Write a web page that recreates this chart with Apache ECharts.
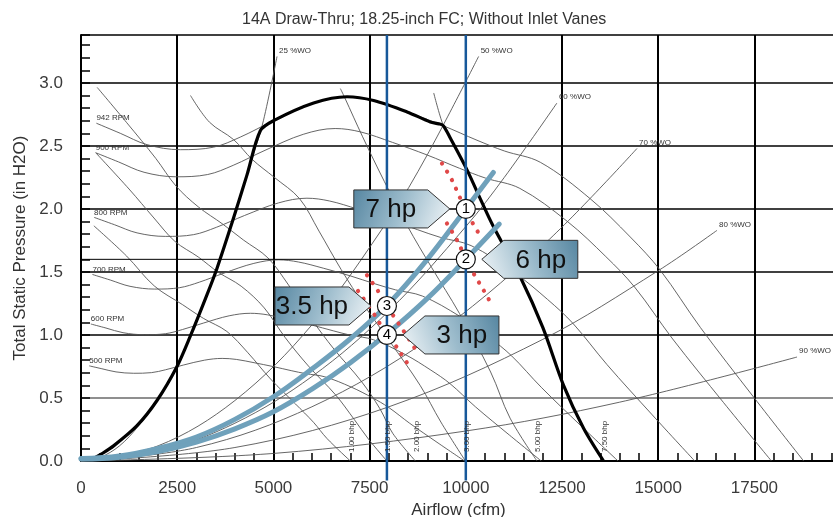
<!DOCTYPE html>
<html><head><meta charset="utf-8">
<script src="https://cdn.jsdelivr.net/npm/echarts@6/dist/echarts.min.js"></script>
<style>html,body{margin:0;padding:0;background:#fff}#chart{width:833px;height:517px}</style>
</head><body><div id="chart"></div>
<script>
const FF = "'Liberation Sans', Arial, sans-serif";
const chartTitle = '14A Draw-Thru; 18.25-inch FC; Without Inlet Vanes';
const xAxisName = 'Airflow (cfm)';
const yAxisName = 'Total Static Pressure (in H2O)';
const X_MAX = 19620, Y_MAX = 3.38;

// fan speed curves
const rpm942 = [[400,2.68],[1021,2.60],[1715,2.51],[2580,2.47],[3446,2.49],[4140,2.57],[5005,2.70],[6045,2.84],[6913,2.89],[7604,2.86],[8472,2.77],[9415,2.66],[10291,2.545],[11000,2.46],[11936,2.37],[13236,2.08],[14275,1.777],[15055,1.513],[16094,1.06],[17479,0.507],[18779,0]];
const rpm900 = [[382,2.446],[975,2.373],[1638,2.291],[2465,2.255],[3292,2.273],[3955,2.346],[4782,2.465],[5775,2.592],[6605,2.638],[7265,2.611],[8094,2.528],[8995,2.428],[9832,2.323],[10509,2.245],[11404,2.163],[12646,1.899],[13638,1.622],[14384,1.381],[15376,0.968],[16699,0.463],[17942,0]];
const rpm800 = [[340,1.933],[867,1.875],[1457,1.810],[2191,1.782],[2927,1.796],[3516,1.854],[4251,1.948],[5134,2.048],[5871,2.085],[6458,2.063],[7195,1.998],[7996,1.919],[8740,1.836],[9342,1.774],[10137,1.709],[11241,1.500],[12124,1.282],[12786,1.091],[13669,0.765],[14845,0.366],[15949,0]];
const rpm700 = [[297,1.480],[759,1.436],[1274,1.386],[1917,1.364],[2561,1.375],[3076,1.419],[3719,1.491],[4492,1.568],[5137,1.596],[5650,1.579],[6295,1.530],[6996,1.469],[7647,1.405],[8174,1.358],[8870,1.309],[9836,1.149],[10608,0.981],[11187,0.835],[11960,0.585],[12989,0.280],[13955,0]];
const rpm600 = [[255,1.087],[650,1.055],[1092,1.018],[1643,1.002],[2195,1.010],[2637,1.043],[3188,1.095],[3850,1.152],[4403,1.172],[4843,1.160],[5396,1.124],[5996,1.079],[6554,1.033],[7006,0.998],[7602,0.962],[8430,0.844],[9092,0.721],[9589,0.614],[10250,0.430],[11132,0.206],[11960,0]];
const rpm500 = [[212,0.755],[542,0.732],[910,0.707],[1369,0.696],[1829,0.701],[2198,0.724],[2657,0.761],[3209,0.800],[3669,0.814],[4036,0.806],[4497,0.780],[4998,0.749],[5462,0.717],[5839,0.693],[6336,0.668],[7026,0.586],[7577,0.501],[7991,0.426],[8543,0.299],[9278,0.143],[9968,0]];
const rpmNames = ['942 RPM','900 RPM','800 RPM','700 RPM','600 RPM','500 RPM'];

// percent wide open system lines
const wo25 = [[0,0],[500,0.03],[1000,0.12],[1500,0.28],[2000,0.49],[2500,0.76],[3000,1.10],[3500,1.50],[4000,1.96],[4500,2.45],[4740,2.70],[5094,3.21]];
const wo50 = [[0,0],[2000,0.12],[4000,0.48],[6000,1.08],[8000,1.92],[9000,2.43],[10333,3.21]];
const wo60 = [[0,0],[2000,0.074],[4000,0.30],[6000,0.67],[8000,1.19],[10000,1.86],[11000,2.25],[12367,2.84]];
const wo70 = [[0,0],[3000,0.107],[6000,0.43],[9000,0.96],[12000,1.71],[14449,2.48]];
const wo80 = [[0,0],[4000,0.107],[8000,0.43],[12000,0.965],[15000,1.51],[16528,1.83]];
const wo90 = [[0,0],[5000,0.06],[10000,0.238],[14000,0.467],[18607,0.825]];
const woNames = ['25 %WO','50 %WO','60 %WO','70 %WO','80 %WO','90 %WO'];

// brake horsepower lines
const bhp100 = [[334,1.866],[1186,1.626],[1904,1.389],[2641,1.240],[3179,1.132],[3790,1.028],[4337,0.859],[4928,0.65],[5576,0.452],[6042,0.307],[6394,0.178],[7000,0]];
const bhp150 = [[382,2.446],[1248,2.158],[1896,1.928],[2439,1.743],[3046,1.619],[3575,1.496],[4162,1.387],[4761,1.215],[5307,0.979],[5912,0.753],[6615,0.525],[7102,0.329],[7470,0.174],[7950,0]];
const bhp200 = [[421,2.964],[1189,2.684],[1943,2.401],[2468,2.182],[3046,2.017],[3686,1.879],[4218,1.754],[4856,1.612],[5392,1.397],[5975,1.132],[6578,0.886],[7285,0.632],[7769,0.414],[8100,0.22],[8690,0]];
const bhp300 = [[2846,2.90],[3339,2.688],[3966,2.55],[4452,2.392],[5017,2.252],[5681,2.081],[6185,1.824],[6761,1.519],[7358,1.235],[8030,0.946],[8811,0.601],[9352,0.309],[9990,0]];
const bhp500 = [[6740,2.955],[6850,2.885],[7319,2.572],[7881,2.219],[8483,1.864],[9110,1.536],[9836,1.17],[10645,0.706],[11150,0.34],[11850,0]];
const bhp750 = [[9166,2.92],[9415,2.66],[9600,2.56],[10031,2.31],[10377,2.08],[10700,1.87],[11416,1.46],[12000,1.06],[12540,0.60],[13060,0.26],[13580,0]];
const bhpNames = ['1.00 bhp','1.50 bhp','2.00 bhp','3.00 bhp','5.00 bhp','7.50 bhp'];

// operating envelope (thick black)
const fanLimit = [[330,0.02],[502,0.05],[847,0.12],[1455,0.28],[1975,0.48],[2495,0.75],[2840,0.99],[3275,1.32],[3535,1.53],[3966,1.93],[4314,2.27],[4660,2.62],[5005,2.70],[6045,2.84],[6913,2.89],[7604,2.86],[8472,2.77],[9078,2.69],[9300,2.675],[9415,2.66],[9600,2.56],[10031,2.31],[10377,2.08],[10700,1.87],[11416,1.46],[12000,1.06],[12540,0.60],[13060,0.26],[13580,0]];

// system curves (light blue)
const systemA = [[0,0.02],[1000,0.04],[2000,0.10],[3000,0.19],[4000,0.33],[5000,0.51],[6000,0.73],[7000,0.97],[8000,1.25],[9000,1.60],[10000,2.0],[10715,2.29]];
const systemB = [[0,0.015],[1000,0.03],[2000,0.075],[3000,0.15],[4000,0.255],[5000,0.39],[6000,0.57],[7000,0.78],[8000,1.02],[9000,1.29],[10000,1.6],[10870,1.88]];

// red dotted motor curves
const dotsE = [[9382,2.36],[9641,2.228],[9839,2.095],[10000,2.0],[10161,1.897],[10421,1.765]];
const dotsF = [[9511,1.884],[9771,1.752],[9900,1.67],[10000,1.6],[10203,1.487],[10447,1.363],[10681,1.236]];
const dotsG = [[7432,1.474],[7718,1.349],[7950,1.23],[8238,1.098],[8514,0.971],[8758,0.852]];
const dotsH = [[7199,1.349],[7604,1.17],[7950,1.0],[8168,0.919],[8428,0.799],[8558,0.742]];

// design airflows and pressure
const designAirflows = [7950, 10000];
const designPressure = 1.6;

// operating points
const opPoints = [[10000,2.0],[10000,1.6],[7950,1.23],[7950,1.0]];
const opLabels = ['1','2','3','4'];
const calloutTexts = ['7 hp','6 hp','3.5 hp','3 hp'];
const calloutSides = [-1, 1, -1, 1];

const thin = (data) => ({type:'line', data, showSymbol:false, symbol:'none', silent:true, smooth:0.35, z:2,
  lineStyle:{color:'#555', width:0.9}});

const series = [];
[rpm942,rpm900,rpm800,rpm700,rpm600,rpm500].forEach(d=>series.push(thin(d)));
[wo25,wo50,wo60,wo70,wo80,wo90].forEach(d=>series.push(thin(d)));
[bhp100,bhp150,bhp200,bhp300,bhp500,bhp750].forEach(d=>series.push(thin(d)));
series.push({type:'line', data:fanLimit, showSymbol:false, symbol:'none', silent:true, smooth:0.3, z:3,
  lineStyle:{color:'#000', width:3.2}});
[systemA, systemB].forEach(d=>series.push({type:'line', data:d, showSymbol:false, symbol:'none', silent:true, smooth:0.4, z:4,
  lineStyle:{color:'#6fa1bb', width:5, cap:'round'}}));
[dotsE,dotsF,dotsG,dotsH].forEach(d=>series.push({type:'line', data:d, showSymbol:false, symbol:'none', silent:true, smooth:0.4, z:5,
  lineStyle:{color:'#e04848', width:4.2, type:[0.1,9.5], cap:'round'}}));
designAirflows.forEach(x=>series.push({type:'line', data:[[x,Y_MAX],[x,-0.155]], clip:false, showSymbol:false, symbol:'none', silent:true, z:6,
  lineStyle:{color:'#17589a', width:2.5}}));
series.push({type:'line', data:[[-480,designPressure],[designAirflows[1],designPressure]], clip:false, showSymbol:false, symbol:'none', silent:true, z:6,
  lineStyle:{color:'#000', width:1}});

// small labels
const labelMeta = [], labelData = [];
[rpm942,rpm900,rpm800,rpm700,rpm600,rpm500].forEach((c,i)=>{labelMeta.push({kind:'rpm', text:rpmNames[i]}); labelData.push(c[0]);});
[wo25,wo50,wo60,wo70,wo80,wo90].forEach((c,i)=>{labelMeta.push({kind:'wo', text:woNames[i]}); labelData.push(c[c.length-1]);});
[bhp100,bhp150,bhp200,bhp300,bhp500,bhp750].forEach((c,i)=>{labelMeta.push({kind:'bhp', text:bhpNames[i]}); labelData.push(c[c.length-1]);});
series.push({type:'custom', data:labelData, clip:false, silent:true, z:7,
  renderItem:(params, api)=>{
    const m = labelMeta[params.dataIndex];
    const p = api.coord([api.value(0), api.value(1)]);
    const st = {text:m.text, fontSize:8, fontFamily:FF, fill:'#333', align:'left', verticalAlign:'middle'};
    if (m.kind==='rpm') return {type:'text', x:p[0], y:p[1]-5, style:st};
    if (m.kind==='wo') return {type:'text', x:p[0]+2, y:p[1]-6, style:st};
    return {type:'text', x:p[0]+1, y:p[1]-9, rotation:Math.PI/2, style:st};
  }});

// operating point circles
series.push({type:'scatter', data:opPoints, symbol:'circle', symbolSize:19, silent:true, z:8,
  itemStyle:{color:'#fff', borderColor:'#111', borderWidth:1.2, opacity:1},
  label:{show:true, position:'inside', formatter:(p)=>opLabels[p.dataIndex], fontSize:15, color:'#000',
    textBorderWidth:0, textBorderColor:'transparent', fontFamily:FF}});

// callouts
series.push({type:'custom', data:opPoints.map((p,i)=>[p[0],p[1],calloutSides[i]]), clip:false, silent:true, z:9,
  renderItem:(params, api)=>{
    const c = api.coord([api.value(0), api.value(1)]);
    const side = api.value(2);
    const tipX = c[0] + side*16, near = tipX + side*22, far = near + side*74;
    const top = c[1]-19, bot = c[1]+19;
    const pts = [[far,top],[near,top],[tipX,c[1]],[near,bot],[far,bot]];
    const stops = [{offset:0,color:'#5686a1'},{offset:0.5,color:'#9ebdcd'},{offset:1,color:'#f3f7f9'}];
    const grad = side < 0
      ? new echarts.graphic.LinearGradient(0,0,1,1,stops)
      : new echarts.graphic.LinearGradient(1,0,0,1,stops);
    return {type:'group', children:[
      {type:'polygon', shape:{points:pts}, style:{fill:grad, stroke:'#333', lineWidth:1}},
      {type:'text', x:(near+far)/2, y:c[1]+1, style:{text:calloutTexts[params.dataIndex], fontSize:26, fontFamily:FF, fill:'#111', align:'center', verticalAlign:'middle'}}
    ]};
  }});

const chart = echarts.init(document.getElementById('chart'), null, {renderer:'canvas'});
chart.setOption({
  animation:false,
  backgroundColor:'#fff',
  title:{text:chartTitle, left:237, top:7, textStyle:{fontSize:16, fontWeight:'normal', color:'#333', fontFamily:FF}},
  grid:{left:81, right:-3, top:35, bottom:56, containLabel:false, outerBoundsMode:'none'},
  xAxis:{type:'value', min:0, max:X_MAX, interval:2500,
    name:xAxisName, nameLocation:'middle', nameGap:40, nameTextStyle:{fontSize:17, color:'#333', fontFamily:FF},
    axisLine:{show:true, onZero:false, lineStyle:{color:'#000', width:2}},
    axisTick:{show:true, inside:true, length:8, lineStyle:{color:'#000', width:1.5}},
    minorTick:{show:true, splitNumber:5, length:8, lineStyle:{color:'#000', width:1.5}},
    axisLabel:{margin:19, fontSize:17, color:'#3a3a3a', fontFamily:FF, showMaxLabel:false, formatter:(v)=>String(v)},
    splitLine:{show:true, lineStyle:{color:'#000', width:2}}},
  yAxis:{type:'value', min:0, max:Y_MAX, interval:0.5,
    name:yAxisName, nameLocation:'middle', nameGap:50, nameTextStyle:{fontSize:17, color:'#333', fontFamily:FF},
    axisLine:{show:true, lineStyle:{color:'#000', width:2}},
    axisTick:{show:true, inside:true, length:9, lineStyle:{color:'#000', width:1.5}},
    minorTick:{show:true, splitNumber:5, length:9, lineStyle:{color:'#000', width:1.5}},
    axisLabel:{margin:18, fontSize:17, color:'#3a3a3a', fontFamily:FF, showMaxLabel:false, formatter:(v)=>v.toFixed(1)},
    splitLine:{show:true, lineStyle:{color:['#000','#6a6a6a','#000','#000','#000','#000','#000','#000'], width:1.6}}},
  series
});
</script></body></html>
